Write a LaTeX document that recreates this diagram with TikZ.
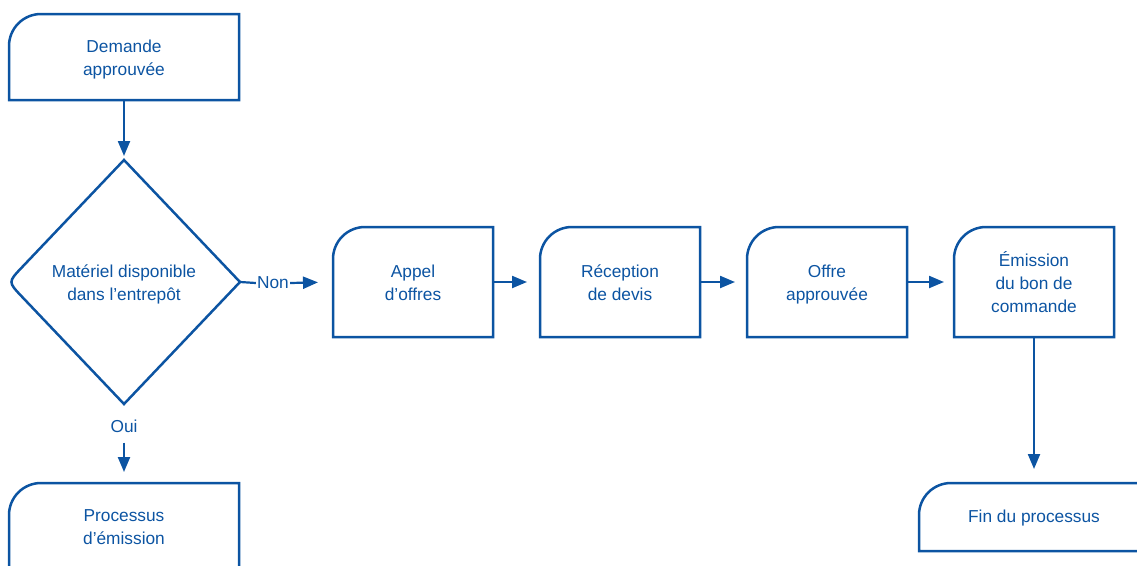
\documentclass[tikz,border=0pt]{standalone}
\usepackage{fontspec}
\setmainfont{Liberation Sans}
\usetikzlibrary{arrows.meta,shapes.geometric,calc}
\definecolor{flowblue}{RGB}{12,84,162}

% outline of a box whose top-left corner is rounded
\newcommand\cornerbox[1]{%
  \draw[outline] (#1.south west) -- ([yshift=-32pt]#1.north west)
    arc[start angle=180,end angle=90,radius=32pt] -- (#1.north east)
    -- (#1.south east) -- cycle;}

\tikzset{
  outline/.style={draw=flowblue,line width=2.5pt,line join=miter},
  label/.style={text=flowblue,font=\fontsize{17.3}{23}\selectfont,align=center},
  twolines/.style={label,text height=40.6pt,text depth=3.6pt},
  threelines/.style={label,text height=64.6pt,text depth=3.6pt},
  stepbox/.style={twolines,rectangle,inner sep=0pt,outer sep=0pt,
    minimum width=160pt,minimum height=110pt},
  endbox/.style={twolines,rectangle,inner sep=0pt,outer sep=0pt,
    minimum width=230pt,minimum height=86pt},
  flow/.style={draw=flowblue,line width=2.2pt,
    -{Triangle[length=15pt,width=12pt]}},
  plain/.style={draw=flowblue,line width=2.2pt},
}

\begin{document}
\begin{tikzpicture}[x=1pt,y=-1pt]
\clip (0,0) rectangle (1137,565);

% nodes
\node[endbox] (dem) at (124,57) {Demande\\approuvée};
\node[twolines,shape=diamond,inner sep=0pt,outer sep=0pt,
  minimum width=232pt,minimum height=244pt] (dec) at (124,282)
  {Matériel disponible\\dans l’entrepôt};
\node[stepbox] (appel) at (413,282) {Appel\\d’offres};
\node[stepbox] (recep) at (620,282) {Réception\\de devis};
\node[stepbox] (offre) at (827,282) {Offre\\approuvée};
\node[stepbox,threelines] (emis) at (1034,282) {Émission\\du bon de\\commande};
\node[endbox] (proc) at (124,526) {Processus\\d’émission};
\node[endbox,minimum height=68pt,text height=14.6pt] (fin) at (1034,517) {Fin du processus};

\node[label,inner sep=1pt] (non) at (273,283) {Non};
\node[label,inner sep=0pt] (oui) at (124,426) {Oui};

% outlines
\cornerbox{dem}
\cornerbox{appel}
\cornerbox{recep}
\cornerbox{offre}
\cornerbox{emis}
\cornerbox{proc}
\cornerbox{fin}
\draw[outline] (dec.north) -- (dec.east) -- (dec.south)
  -- ($(dec.west)!20pt!(dec.south)$) .. controls (dec.west) ..
  ($(dec.west)!20pt!(dec.north)$) -- cycle;

% connectors
\draw[flow,shorten >=4pt] (dem.south) -- (dec.north);
\draw[plain] (dec.east) -- (non.west);
\draw[flow,shorten >=15pt] (non.east) -- (appel.west);
\draw[flow,shorten >=13pt] (appel.east) -- (recep.west);
\draw[flow,shorten >=12pt] (recep.east) -- (offre.west);
\draw[flow,shorten >=10pt] (offre.east) -- (emis.west);
\draw[flow,shorten >=14pt] (emis.south) -- (fin.north);
\draw[flow,shorten <=10pt,shorten >=11pt] (oui.south) -- (proc.north);
\end{tikzpicture}
\end{document}
